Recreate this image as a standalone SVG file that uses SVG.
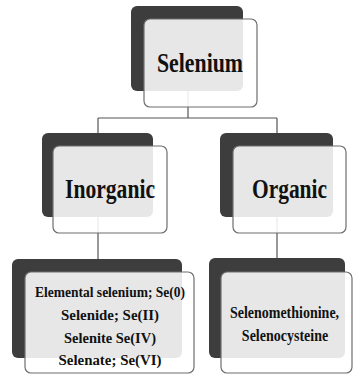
<svg xmlns="http://www.w3.org/2000/svg" width="353" height="375" viewBox="0 0 353 375">
<style>
.bg{fill:#3d3d3d}
.fg{fill:#ffffff;fill-opacity:0.88;stroke:#6e6e6e;stroke-width:1.2}
.t{font-family:"Liberation Serif","Times New Roman",serif;font-weight:bold;fill:#111111;text-anchor:middle}
.c{stroke:#555;stroke-width:1.2;fill:none}
</style>
<rect width="353" height="375" fill="#ffffff"/>
<g id="connectors">
<path class="c" d="M188 91V118M98 118H277M98 118V133M277 118V133M98 217V259M277 217V258"/>
</g>
<g id="selenium">
<rect class="bg" x="131" y="6" width="112" height="85" rx="6"/>
<rect class="fg" x="144" y="19" width="113" height="88" rx="6"/>
<text class="t" x="200" y="72" font-size="27" textLength="86" lengthAdjust="spacingAndGlyphs">Selenium</text>
</g>
<g id="inorganic">
<rect class="bg" x="42" y="133" width="111" height="84" rx="6"/>
<rect class="fg" x="53" y="146" width="114" height="87" rx="6"/>
<text class="t" x="110" y="198" font-size="27" textLength="90" lengthAdjust="spacingAndGlyphs">Inorganic</text>
</g>
<g id="organic">
<rect class="bg" x="220" y="133" width="113" height="84" rx="6"/>
<rect class="fg" x="233" y="146" width="113" height="87" rx="6"/>
<text class="t" x="289.5" y="198" font-size="27" textLength="75" lengthAdjust="spacingAndGlyphs">Organic</text>
</g>
<g id="inorganic-list">
<rect class="bg" x="12" y="259" width="170" height="99" rx="6"/>
<rect class="fg" x="25" y="272" width="169" height="101" rx="6"/>
<text class="t" x="110" y="297" font-size="15" textLength="150" lengthAdjust="spacingAndGlyphs">Elemental selenium; Se(0)</text>
<text class="t" x="110" y="320" font-size="15" textLength="98" lengthAdjust="spacingAndGlyphs">Selenide; Se(II)</text>
<text class="t" x="110" y="343" font-size="15" textLength="92" lengthAdjust="spacingAndGlyphs">Selenite Se(IV)</text>
<text class="t" x="110" y="365" font-size="15" textLength="103" lengthAdjust="spacingAndGlyphs">Selenate; Se(VI)</text>
</g>
<g id="organic-list">
<rect class="bg" x="209" y="258" width="136" height="100" rx="6"/>
<rect class="fg" x="221" y="272" width="131" height="101" rx="6"/>
<text class="t" transform="translate(284.5 318) scale(1 1.2)" x="0" y="0" font-size="14">Selenomethionine,</text>
<text class="t" transform="translate(285 341) scale(1 1.2)" x="0" y="0" font-size="14">Selenocysteine</text>
</g>
</svg>
